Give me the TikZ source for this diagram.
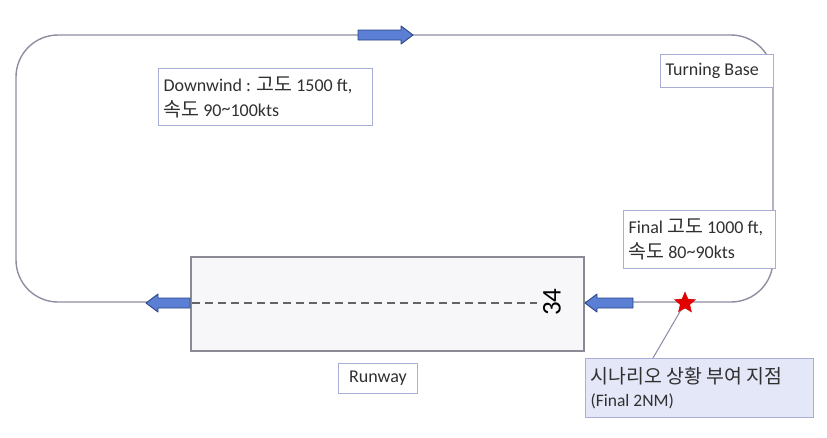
\documentclass[tikz,border=0pt]{standalone}
\usepackage{fontspec}
\setmainfont{Carlito}
\newfontfamily\kr[Scale=1.08]{Noto Sans CJK KR}
\usetikzlibrary{shapes.geometric}
\newcommand\nsk{\spaceskip=0pt\xspaceskip=0pt\relax}
\definecolor{loopgray}{HTML}{8E8EA0}
\definecolor{boxline}{HTML}{A8AED6}
\definecolor{arrowfill}{HTML}{5A7FD4}
\definecolor{arrowline}{HTML}{2C4486}
\definecolor{callfill}{HTML}{E4E7F7}
\definecolor{rwfill}{HTML}{F7F7F9}
\definecolor{rwline}{HTML}{8A8A94}
\definecolor{txt}{HTML}{303030}
\tikzset{
  looppath/.style={draw=loopgray, line width=1.4pt, rounded corners=42pt},
  labelbox/.style={draw=boxline, line width=1pt, fill=white, anchor=north west, align=left,
    inner xsep=5pt, text=txt, font=\fontsize{18}{25}\selectfont},
  blockarrow/.style={fill=arrowfill, draw=arrowline, line width=0.9pt, line join=round},
}
\begin{document}
\begin{tikzpicture}[x=1pt,y=-1pt]
\useasboundingbox (0,0) rectangle (827,437);
% circuit
\draw[looppath] (16,35) rectangle (773,302);
% runway
\node[draw=rwline, line width=1.6pt, fill=rwfill, anchor=north west,
      minimum width=393pt, minimum height=94pt, inner sep=0pt] (rw) at (190,256) {};
\coordinate (dashA) at (192,303);
\coordinate (dashB) at (537,303);
\draw[txt!75, line width=2.4pt, dash pattern=on 8pt off 5pt] (dashA) -- (dashB);
\node[rotate=90, font=\fontsize{27}{27}\selectfont, text=black] (num) at (552,302) {34};
% arrows
\filldraw[blockarrow] (358,30) -- (401,30) -- (401,26) -- (413,35) -- (401,44) -- (401,40) -- (358,40) -- cycle;
\filldraw[blockarrow] (190,298) -- (158,298) -- (158,294) -- (146,303) -- (158,312) -- (158,308) -- (190,308) -- cycle;
\filldraw[blockarrow] (633,298) -- (597,298) -- (597,294) -- (585,303) -- (597,312) -- (597,308) -- (633,308) -- cycle;
% labels
\node[labelbox, text width=204pt, minimum height=57pt] (down) at (158,68)
  {\nsk Downwind : {\kr 고도} 1500 ft,\\{\kr 속도} 90\raisebox{0.15ex}{\textasciitilde}100kts};
\node[labelbox, text width=103pt, minimum height=33pt] (turn) at (660,54) {\nsk Turning Base};
\node[labelbox, text width=142pt, minimum height=58pt] (final) at (623,210)
  {\nsk Final {\kr 고도} 1000 ft,\\{\kr 속도} 80\raisebox{0.15ex}{\textasciitilde}90kts};
\node[labelbox, text width=69pt, minimum height=30pt, align=center] (runway) at (338,363) {Runway};
% callout
\node[star, star points=5, star point ratio=2.2, fill=red!90!black, draw=red!80!black,
      minimum size=22pt, inner sep=0pt] (star) at (685,303) {};
\node[labelbox, fill=callfill, text width=218pt, minimum height=59pt] (call) at (585,358)
  {\nsk{\kr 시나리오 상황 부여 지점}\\[-2pt]{\fontsize{17.5}{20}\selectfont\nsk (Final 2NM)}};
\draw[boxline!80!black, line width=1pt] (star) -- (653,358);
\end{tikzpicture}
\end{document}
